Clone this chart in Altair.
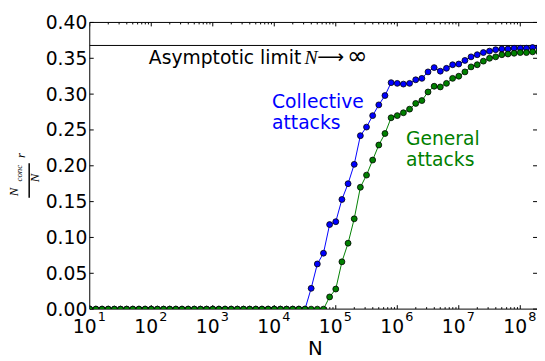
import altair as alt
import pandas as pd

# ---------------- data ----------------
N_EXP = [1.0, 1.1, 1.2, 1.3, 1.4, 1.5, 1.6, 1.7, 1.8, 1.9,
         2.0, 2.1, 2.2, 2.3, 2.4, 2.5, 2.6, 2.7, 2.8, 2.9,
         3.0, 3.1, 3.2, 3.3, 3.4, 3.5, 3.6, 3.7, 3.8, 3.9,
         4.0, 4.1, 4.2, 4.3, 4.4, 4.5, 4.6, 4.7, 4.8, 4.9,
         5.0, 5.1, 5.2, 5.3, 5.4, 5.5, 5.6, 5.7, 5.8, 5.9,
         6.0, 6.1, 6.2, 6.3, 6.4, 6.5, 6.6, 6.7, 6.8, 6.9,
         7.0, 7.1, 7.2, 7.3, 7.4, 7.5, 7.6, 7.7, 7.8, 7.9,
         8.0, 8.1, 8.2, 8.3]

COLLECTIVE = [0.0] * 36 + [
    0.029, 0.063, 0.078, 0.118, 0.122, 0.153, 0.175, 0.202, 0.242, 0.254,
    0.270, 0.285, 0.298, 0.316, 0.315, 0.314, 0.315, 0.320, 0.322, 0.331,
    0.337, 0.332, 0.336, 0.341, 0.342, 0.347, 0.352, 0.355, 0.358, 0.360,
    0.362, 0.363, 0.363, 0.364, 0.364, 0.364, 0.365, 0.365]

GENERAL = [0.0] * 39 + [
    0.017, 0.028, 0.066, 0.092, 0.126, 0.170, 0.187, 0.208, 0.229, 0.245,
    0.267, 0.270, 0.274, 0.279, 0.287, 0.291, 0.303, 0.311, 0.310, 0.315,
    0.322, 0.325, 0.331, 0.338, 0.341, 0.346, 0.350, 0.352, 0.355, 0.356,
    0.357, 0.358, 0.358, 0.359, 0.359]

LIMIT = [0.3679]

MAJOR_X = [1e1, 1e2, 1e3, 1e4, 1e5, 1e6, 1e7, 1e8]
EXP_LABELS = ["1", "2", "3", "4", "5", "6", "7", "8"]
MINOR_MULT = [2, 3, 4, 5, 6, 7, 8, 9]
Y_TICKS = [0.0, 0.05, 0.10, 0.15, 0.20, 0.25, 0.30, 0.35, 0.40]

# ---------------- layout ----------------
W, H = 454, 291
BLUE, GREEN = "#0000ff", "#008000"
SANS = "DejaVu Sans"
MATH = "Liberation Serif"

df = pd.DataFrame({"N": [10 ** e for e in N_EXP],
                   "coll": COLLECTIVE, "gen": GENERAL})
xmaj = pd.DataFrame({"N": MAJOR_X, "lab": EXP_LABELS})
xmin = pd.DataFrame({"N": [m * x for x in MAJOR_X for m in MINOR_MULT]})
yt = pd.DataFrame({"v": Y_TICKS})
one = pd.DataFrame({"a": [0]})

xscale = alt.Scale(type="log", domain=[10, 10 ** 8.272], nice=False)
yscale = alt.Scale(domain=[0, 0.4], nice=False)
X = alt.X("N:Q", scale=xscale, axis=None)

yaxis = alt.Axis(values=Y_TICKS, format=".2f", ticks=False, domain=False,
                 grid=False, labelFontSize=19, labelFont=SANS,
                 labelColor="black", labelPadding=3, title=None,
                 labelOverlap=False)


def Yf(field):
    return alt.Y(f"{field}:Q", scale=yscale, axis=yaxis)


layers = []

# frame (left, top, bottom)
frame = alt.Chart(one)
layers.append(frame.mark_rule(color="black", strokeWidth=1).encode(
    x=alt.value(0), y=alt.value(0), y2=alt.value(H)))
layers.append(frame.mark_rule(color="black", strokeWidth=1).encode(
    x=alt.value(0), x2=alt.value(W), y=alt.value(0)))
layers.append(frame.mark_rule(color="black", strokeWidth=1).encode(
    x=alt.value(0), x2=alt.value(W), y=alt.value(H)))

# y ticks (inward, both sides) - these carry the y axis labels
ytick = alt.Chart(yt)
layers.append(ytick.mark_rule(color="black", strokeWidth=1).encode(
    y=Yf("v"), x=alt.value(0), x2=alt.value(4)))
layers.append(ytick.mark_rule(color="black", strokeWidth=1).encode(
    y=Yf("v"), x=alt.value(W), x2=alt.value(W - 4)))

# x ticks (inward, top and bottom)
for y0, y1 in [(H, H - 4), (0, 4)]:
    layers.append(alt.Chart(xmaj).mark_rule(color="black", strokeWidth=1, clip=True).encode(
        x=X, y=alt.value(y0), y2=alt.value(y1)))
for y0, y1 in [(H, H - 2), (0, 2)]:
    layers.append(alt.Chart(xmin).mark_rule(color="black", strokeWidth=1, clip=True).encode(
        x=X, y=alt.value(y0), y2=alt.value(y1)))

# x tick labels 10^k
layers.append(alt.Chart(xmaj).mark_text(align="right", baseline="alphabetic", dx=7,
                                         fontSize=19, font=SANS, color="black").encode(
    x=X, y=alt.value(H + 24), text=alt.value("10")))
layers.append(alt.Chart(xmaj).mark_text(align="left", baseline="alphabetic", dx=8,
                                         fontSize=13, font=SANS, color="black").encode(
    x=X, y=alt.value(H + 12), text="lab:N"))

# asymptotic limit
layers.append(alt.Chart(pd.DataFrame({"v": LIMIT})).mark_rule(color="black", strokeWidth=1).encode(
    y=Yf("v"), x=alt.value(0), x2=alt.value(W)))

# series
for col, colr in [("coll", BLUE), ("gen", GREEN)]:
    base = alt.Chart(df)
    layers.append(base.mark_line(color=colr, strokeWidth=1, clip=True).encode(x=X, y=Yf(col)))
    layers.append(base.mark_circle(color=colr, stroke="black", strokeWidth=0.8,
                                   size=36, opacity=1, clip=True).encode(x=X, y=Yf(col)))


# annotations
def txt(s, x, y, size=19, color="black", font=SANS, style="normal", angle=0,
        align="left", baseline="alphabetic", lh=None):
    kw = dict(align=align, baseline=baseline, fontSize=size, font=font,
              color=color, fontStyle=style)
    if angle:
        kw["angle"] = angle
    if lh:
        kw["lineHeight"] = lh
    return alt.Chart(one).mark_text(**kw).encode(
        x=alt.value(x), y=alt.value(y), text=alt.value(s))


layers.append(txt("Asymptotic limit", 60, 42))
layers.append(txt("N", 218, 42, size=20, font=MATH, style="italic"))
layers.append(txt("\u27f6", 231, 41, size=19))
layers.append(txt("\u221e", 261, 42, size=25))
layers.append(txt(["Collective", "attacks"], 185, 87, color=BLUE, lh=21.5))
layers.append(txt(["General", "attacks"], 321, 124, color=GREEN, lh=21.5))
layers.append(txt("N", 229, 338, size=20, align="center"))

# y-axis label: (N_conc / N) r  rotated
layers.append(txt("N", -77, 172, size=13, font=MATH, style="italic", angle=270,
                  align="center", baseline="middle"))
layers.append(txt("conc", -71.5, 153, size=9, font=MATH, style="italic", angle=270,
                  align="center", baseline="middle"))
layers.append(txt("N", -55.5, 158, size=13, font=MATH, style="italic", angle=270,
                  align="center", baseline="middle"))
layers.append(txt("r", -70, 135, size=13, font=MATH, style="italic", angle=270,
                  align="center", baseline="middle"))
layers.append(frame.mark_rule(color="black", strokeWidth=1.5).encode(
    x=alt.value(-61.5), y=alt.value(143), y2=alt.value(178)))

chart = alt.layer(*layers).properties(
    width=W, height=H,
    autosize=alt.AutoSizeParams(type="none"),
    padding={"left": 83, "top": 12, "right": 0, "bottom": 50},
    background="white",
).configure_view(stroke=None)

chart.save("out.html", embed_options={"renderer": "svg", "actions": False})
